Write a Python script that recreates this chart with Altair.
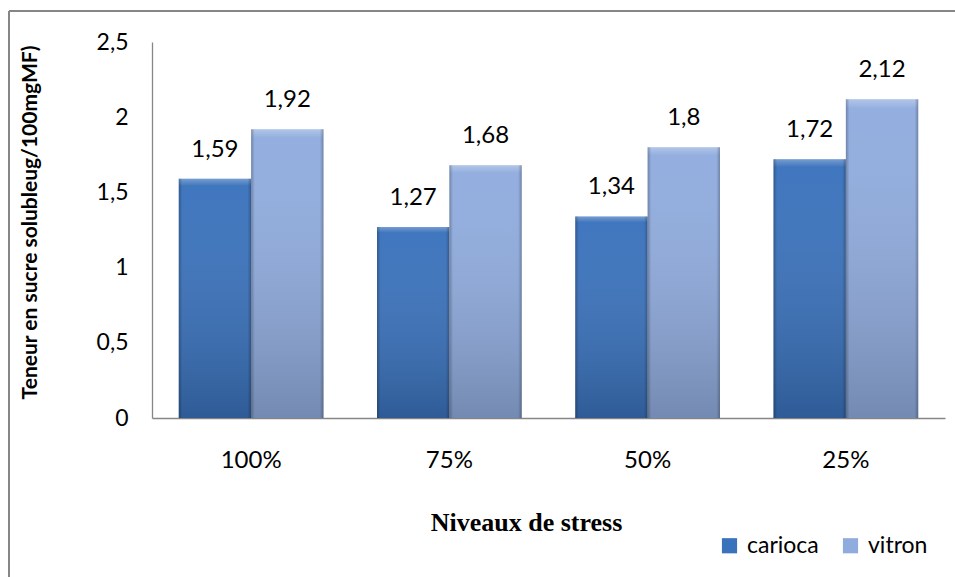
import altair as alt
import pandas as pd

# Soluble sugar content per stress level for the two varieties
niveaux = ["100%", "75%", "50%", "25%"]
series = ["carioca", "vitron"]
carioca = [1.59, 1.27, 1.34, 1.72]
vitron = [1.92, 1.68, 1.80, 2.12]

rows = []
for i, niv in enumerate(niveaux):
    rows.append({"niveau": niv, "variete": "carioca", "valeur": carioca[i]})
    rows.append({"niveau": niv, "variete": "vitron", "valeur": vitron[i]})
df = pd.DataFrame(rows)

W, H = 793, 376
PAD_L, PAD_T = 152, 42
GRAY = "#868686"
FONT = "Lato"

x_enc = alt.X(
    "niveau:N",
    sort=niveaux,
    scale=alt.Scale(paddingInner=0.27, paddingOuter=0.135),
    axis=alt.Axis(
        title="Niveaux de stress",
        labelAngle=0,
        labelFontSize=24,
        labelFont=FONT,
        labelColor="black",
        labelPadding=30,
        ticks=False,
        domainColor=GRAY,
        domainWidth=1.3,
        titleFont="Liberation Serif",
        titleFontSize=26,
        titleFontWeight="bold",
        titleColor="black",
        titleX=374,
        titleY=104,
        titleBaseline="middle",
    ),
)
xoff = alt.XOffset("variete:N", sort=series, scale=alt.Scale(paddingInner=0, paddingOuter=0))
y_enc = alt.Y(
    "valeur:Q",
    scale=alt.Scale(domain=[0, 2.5], nice=False),
    axis=alt.Axis(
        values=[0, 0.5, 1, 1.5, 2, 2.5],
        format="~g",
        labelExpr="replace(datum.label, '.', ',')",
        labelFontSize=23,
        labelFont=FONT,
        labelColor="black",
        labelPadding=24,
        ticks=False,
        grid=False,
        domainColor=GRAY,
        domainWidth=1.3,
        title="Teneur en sucre solubleug/100mgMF)",
        titleFont=FONT,
        titleFontSize=21,
        titleFontWeight="bold",
        titleColor="black",
        titleX=-122,
        titleY=180,
        titleAngle=-90,
        titleBaseline="middle",
        titleAlign="center",
    ),
)

base = alt.Chart(df)

bars = base.mark_bar().encode(
    x=x_enc,
    xOffset=xoff,
    y=y_enc,
    color=alt.Color(
        "variete:N",
        sort=series,
        scale=alt.Scale(domain=series, range=["#3a72bc", "#90acde"]),
        legend=alt.Legend(
            title=None,
            orient="none",
            legendX=566,
            legendY=492,
            direction="horizontal",
            symbolType="square",
            symbolSize=230,
            symbolStrokeWidth=0,
            labelFont=FONT,
            labelFontSize=23,
            labelColor="black",
            labelOffset=6,
            columnPadding=20,
        ),
    ),
)

# darker toward the bottom of each bar, with a light top bevel
shade_v = base.mark_bar(
    color=alt.Gradient(
        gradient="linear",
        x1=0, y1=0, x2=0, y2=1,
        stops=[
            alt.GradientStop(offset=0, color="rgba(255,255,255,0.3)"),
            alt.GradientStop(offset=0.03, color="rgba(255,255,255,0.03)"),
            alt.GradientStop(offset=1, color="rgba(0,0,0,0.2)"),
        ],
    )
).encode(x=x_enc, xOffset=xoff, y=y_enc)

# bevelled side edges
shade_h = base.mark_bar(
    color=alt.Gradient(
        gradient="linear",
        x1=0, y1=0, x2=1, y2=0,
        stops=[
            alt.GradientStop(offset=0, color="rgba(0,0,0,0.25)"),
            alt.GradientStop(offset=0.05, color="rgba(0,0,0,0.0)"),
            alt.GradientStop(offset=0.95, color="rgba(0,0,0,0.0)"),
            alt.GradientStop(offset=1, color="rgba(0,0,0,0.25)"),
        ],
    )
).encode(x=x_enc, xOffset=xoff, y=y_enc)

labels = base.transform_calculate(
    etiquette="replace(format(datum.valeur, '~g'), '.', ',')"
).mark_text(
    font=FONT, fontSize=24, color="black", baseline="middle", dy=-29
).encode(x=x_enc, xOffset=xoff, y=y_enc, text="etiquette:N")

# outer frame of the chart
cadre_df = pd.DataFrame({"k": [0]})
cadre_gauche = alt.Chart(cadre_df).mark_rule(color=GRAY, strokeWidth=2).encode(
    x=alt.value(-143), y=alt.value(-31), y2=alt.value(560)
)
cadre_haut = alt.Chart(cadre_df).mark_rule(color=GRAY, strokeWidth=2).encode(
    x=alt.value(-143), x2=alt.value(820), y=alt.value(-31)
)

chart = (
    alt.layer(bars, shade_v, shade_h, labels, cadre_gauche, cadre_haut)
    .properties(
        width=W,
        height=H,
        autosize=alt.AutoSizeParams(type="none"),
        padding={"left": PAD_L, "top": PAD_T, "right": 10, "bottom": 159},
        background="white",
    )
    .configure_view(stroke=None)
)

chart.save("out.html", embed_options={"renderer": "svg", "actions": False})
